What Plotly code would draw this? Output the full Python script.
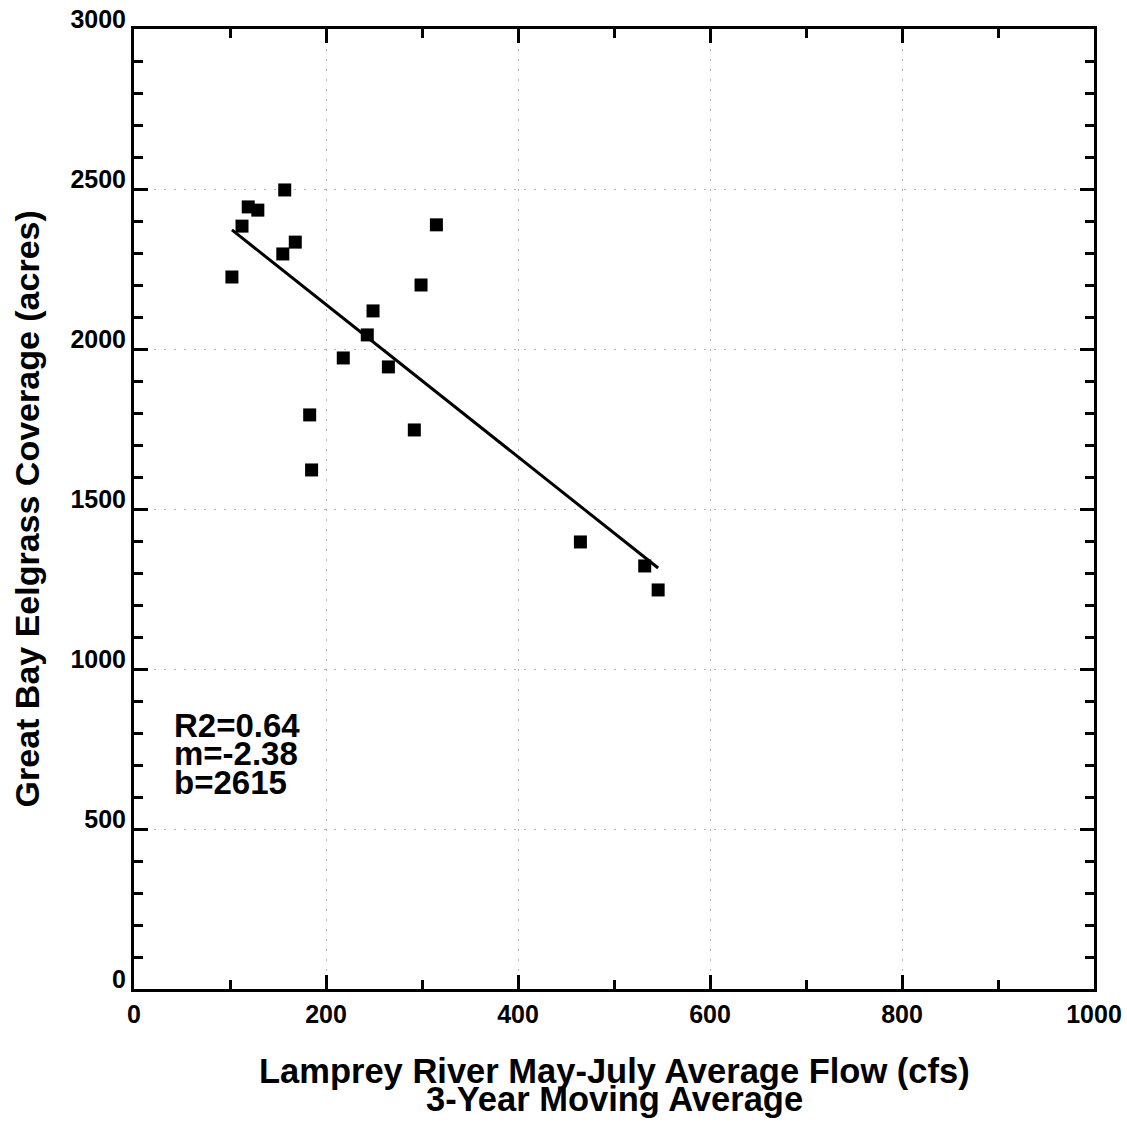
import plotly.graph_objects as go

# Data
flow_cfs = [102, 112.5, 119, 129, 157, 155, 168, 183, 185, 218, 243, 249, 265, 292, 299, 315, 465, 532, 546]
eelgrass_acres = [2225, 2384, 2444, 2434, 2497, 2297, 2334, 1794, 1622, 1972, 2044, 2119, 1944, 1747, 2200, 2388, 1397, 1322, 1247]

fit_r2 = 0.64
fit_m = -2.38
fit_b = 2615

x_title_1 = "Lamprey River May-July Average Flow (cfs)"
x_title_2 = "3-Year Moving Average"
y_title = "Great Bay Eelgrass Coverage (acres)"

FONT = "Liberation Sans, Arial, sans-serif"

fit_x = [min(flow_cfs), max(flow_cfs)]
fit_y = [fit_m * v + fit_b for v in fit_x]

fig = go.Figure()
fig.add_trace(go.Scatter(x=fit_x, y=fit_y, mode="lines",
                         line=dict(color="black", width=3), showlegend=False,
                         hoverinfo="skip"))
fig.add_trace(go.Scatter(x=flow_cfs, y=eelgrass_acres, mode="markers",
                         marker=dict(symbol="square", size=13, color="black",
                                     line=dict(width=0)),
                         showlegend=False))

axis_common = dict(
    showline=True, linecolor="black", linewidth=3, mirror="ticks",
    ticks="inside", ticklen=14, tickwidth=3, tickcolor="black",
    showgrid=True, gridcolor="#b5b5b5", gridwidth=1, griddash="2px,8px",
    zeroline=False, ticklabeloverflow="allow", automargin=False,
    tickfont=dict(family=FONT, size=25, color="black", weight="bold"),
)

fig.update_xaxes(range=[0, 1000], dtick=200, tick0=0,
                 minor=dict(dtick=100, ticks="inside", ticklen=9, tickwidth=3,
                            tickcolor="black", showgrid=False),
                 ticklabelstandoff=1,
                 **axis_common)
fig.update_yaxes(range=[0, 3000], dtick=500, tick0=0,
                 minor=dict(dtick=100, ticks="inside", ticklen=9, tickwidth=3,
                            tickcolor="black", showgrid=False),
                 ticklabelposition="outside top", ticklabelshift=9,
                 **axis_common)

annotations = [
    dict(text=x_title_1, x=0.5, y=-0.0859, xref="paper", yref="paper",
         xanchor="center", yanchor="middle", showarrow=False,
         font=dict(family=FONT, size=34.5, color="black", weight="bold")),
    dict(text=x_title_2, x=0.5, y=-0.1146, xref="paper", yref="paper",
         xanchor="center", yanchor="middle", showarrow=False,
         font=dict(family=FONT, size=34.5, color="black", weight="bold")),
    dict(text=y_title, x=-0.111, y=0.5, xref="paper", yref="paper",
         xanchor="center", yanchor="middle", showarrow=False, textangle=-90,
         font=dict(family=FONT, size=34, color="black", weight="bold")),
]
stats_lines = [f"R2={fit_r2:.2f}", f"m={fit_m:.2f}", f"b={fit_b}"]
stats_y = [0.274, 0.2448, 0.2156]
for t, yy in zip(stats_lines, stats_y):
    annotations.append(dict(text=t, x=0.040, y=yy, xref="paper", yref="paper",
                            xanchor="left", yanchor="middle", showarrow=False,
                            font=dict(family=FONT, size=33, color="black", weight="bold")))

fig.update_layout(
    width=1127, height=1126,
    margin=dict(l=134, r=33, t=29, b=137, pad=0),
    plot_bgcolor="white", paper_bgcolor="white",
    annotations=annotations,
)

fig.write_html("out.html")
